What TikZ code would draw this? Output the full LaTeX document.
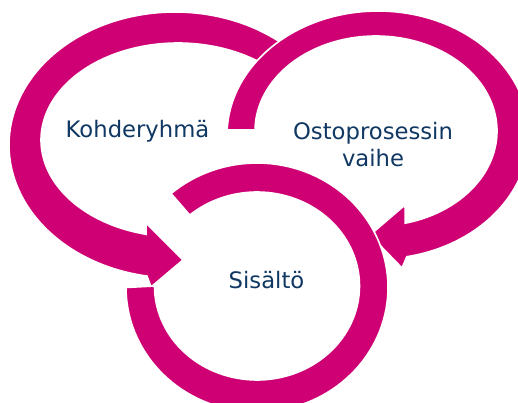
\documentclass[tikz,border=0pt]{standalone}
\usepackage{fontspec}
\setmainfont{DejaVu Sans}
\definecolor{ringmagenta}{RGB}{207,0,115}
\definecolor{labelnavy}{RGB}{16,56,99}
\begin{document}
\begin{tikzpicture}[x=1pt,y=-1pt,
  ring/.style={fill=ringmagenta, draw=white, line width=1.6pt, line join=miter},
  ringlabel/.style={font=\fontsize{22.7}{27}\selectfont, text=labelnavy, inner sep=0pt, align=center}]
\useasboundingbox (0,0) rectangle (518,403);
\fill[white] (0,0) rectangle (518,403);
\begin{scope}
\clip (0,0) rectangle (518,403);
% left ring: band between two ellipses, arrow head at its lower end
\path[ring]
  plot[domain=-48:-260.3, samples=120, variable=\a] ({175+166*cos(\a)},{145+133*sin(\a)})
  -- (151,287) -- (183,260) -- (146,223)
  -- plot[domain=-256.5:-52, samples=120, variable=\a] ({178+137*cos(\a)},{140+97*sin(\a)})
  -- cycle;
% right ring: band between two ellipses, arrow head at its lower end
\path[ring]
  plot[domain=182.3:439, samples=120, variable=\a] ({378+151*cos(\a)},{135+124*sin(\a)})
  -- (402,268) -- (370,235) -- (405,205)
  -- plot[domain=436:180.6, samples=120, variable=\a] ({376+121*cos(\a)},{131+95*sin(\a)})
  -- cycle;
% lower ring
\path[ring]
  plot[domain=-131:180, samples=120, variable=\a] ({257+131*cos(\a)},{287.5+124.5*sin(\a)})
  -- plot[domain=180:-131, samples=120, variable=\a] ({257+102.5*cos(\a)},{286+94*sin(\a)})
  -- cycle;
\end{scope}
\node[ringlabel, anchor=base] (kohde) at (137.5,138) {Kohderyhmä};
\node[ringlabel, anchor=base] (osto) at (373,140) {Ostoprosessin};
\node[ringlabel, anchor=base] (vaihe) at (373,167) {vaihe};
\node[ringlabel, anchor=base] (sisalto) at (266.5,288) {Sisältö};
\end{tikzpicture}
\end{document}
